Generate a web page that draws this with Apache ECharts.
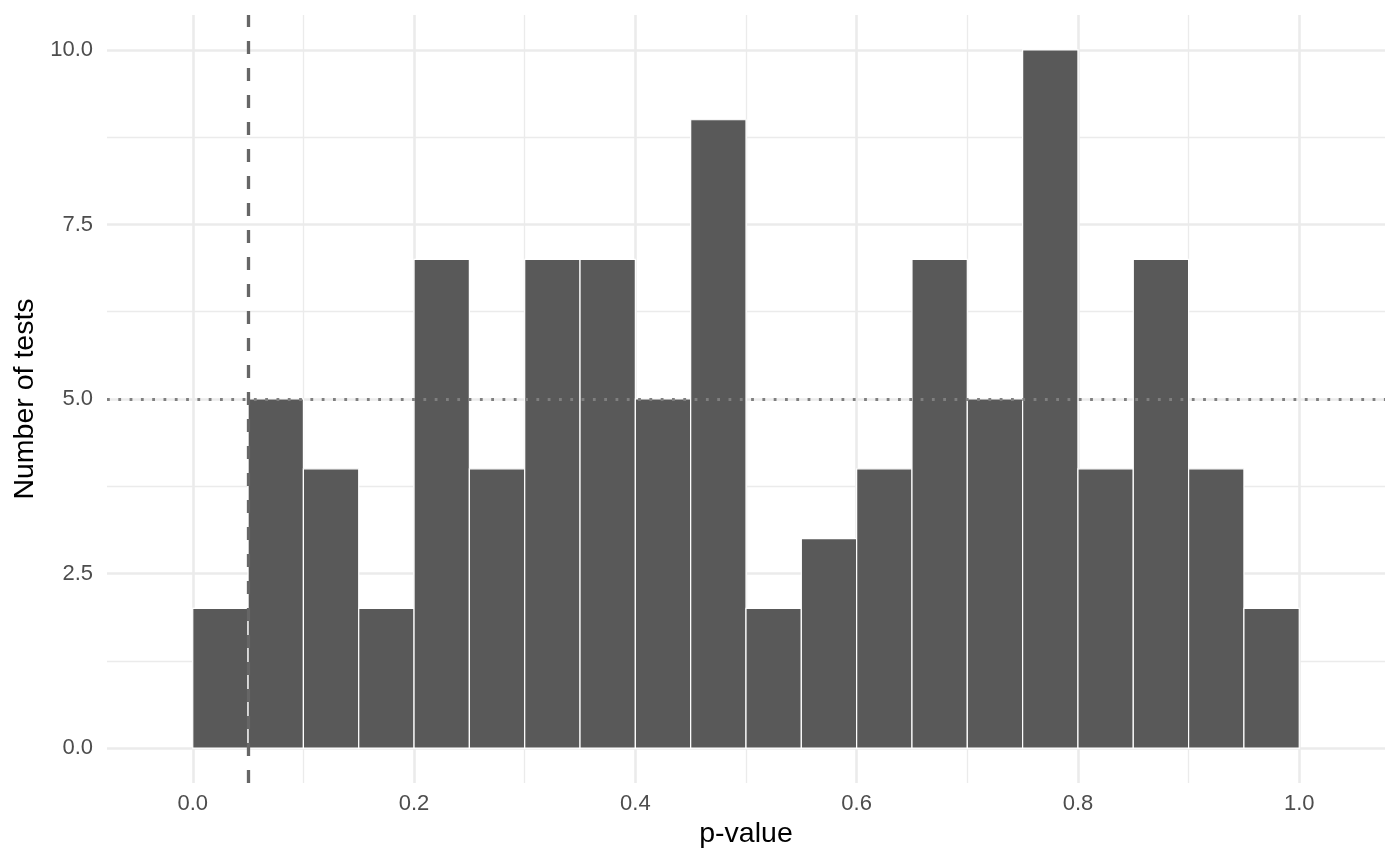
<!DOCTYPE html>
<html>
<head>
<meta charset="utf-8">
<script src="https://cdn.jsdelivr.net/npm/echarts@6/dist/echarts.min.js"></script>
<style>html,body{margin:0;padding:0;background:#fff;}#c{width:1400px;height:866px;}</style>
</head>
<body>
<div id="c"></div>
<script>
// Histogram bins (width 0.05) and counts
const binStarts = [0.00,0.05,0.10,0.15,0.20,0.25,0.30,0.35,0.40,0.45,0.50,0.55,0.60,0.65,0.70,0.75,0.80,0.85,0.90,0.95];
const binEnds   = [0.05,0.10,0.15,0.20,0.25,0.30,0.35,0.40,0.45,0.50,0.55,0.60,0.65,0.70,0.75,0.80,0.85,0.90,0.95,1.00];
const counts    = [2,5,4,2,7,4,7,7,5,9,2,3,4,7,5,10,4,7,4,2];
const xMajorTicks = [0,0.2,0.4,0.6,0.8,1.0];
const xMinorTicks = [0.1,0.3,0.5,0.7,0.9];
const yMajorTicks = [0,2.5,5,7.5,10];
const yMinorTicks = [1.25,3.75,6.25,8.75];
const pThreshold = 0.05;
const expectedCount = 5;

const histData = binStarts.map((s,i)=>[s, binEnds[i], counts[i]]);
const FONT = 'Liberation Sans, Arial, Helvetica, sans-serif';
const gridColor = '#ebebeb';

const chart = echarts.init(document.getElementById('c'));
chart.setOption({
  animation:false,
  backgroundColor:'#ffffff',
  grid:{left:107,right:15,top:15,bottom:83,containLabel:false},
  xAxis:[{
    type:'value', min:-0.0775, max:1.0775,
    name:'p-value', nameLocation:'middle', nameGap:37,
    nameTextStyle:{fontFamily:FONT,fontSize:28.5,color:'#000'},
    axisLine:{show:false}, axisTick:{show:false, customValues:xMajorTicks},
    axisLabel:{customValues:xMajorTicks, formatter:v=>v.toFixed(1), fontFamily:FONT, fontSize:22, color:'#4d4d4d', margin:10},
    splitLine:{show:true, lineStyle:{color:gridColor,width:2.6}}
  },{
    type:'value', min:-0.0775, max:1.0775, position:'bottom',
    axisLine:{show:false}, axisTick:{show:false, customValues:xMinorTicks},
    axisLabel:{show:false, customValues:xMinorTicks},
    splitLine:{show:true, lineStyle:{color:gridColor,width:1.3}}
  }],
  yAxis:[{
    type:'value', min:-0.5, max:10.5,
    name:'Number of tests', nameLocation:'middle', nameGap:66, nameRotate:90,
    nameTextStyle:{fontFamily:FONT,fontSize:28.5,color:'#000'},
    axisLine:{show:false}, axisTick:{show:false, customValues:yMajorTicks},
    axisLabel:{customValues:yMajorTicks, formatter:v=>v.toFixed(1), fontFamily:FONT, fontSize:22, color:'#4d4d4d', margin:14},
    splitLine:{show:true, lineStyle:{color:gridColor,width:2.6}}
  },{
    type:'value', min:-0.5, max:10.5, position:'left',
    axisLine:{show:false}, axisTick:{show:false, customValues:yMinorTicks},
    axisLabel:{show:false, customValues:yMinorTicks},
    splitLine:{show:true, lineStyle:{color:gridColor,width:1.3}}
  }],
  series:[{
    type:'custom',
    xAxisIndex:0, yAxisIndex:0,
    data:histData,
    encode:{x:[0,1], y:2},
    renderItem:function(params, api){
      const p0 = api.coord([api.value(0), 0]);
      const p1 = api.coord([api.value(1), api.value(2)]);
      return {
        type:'rect',
        shape:{x:p0[0], y:p1[1], width:p1[0]-p0[0], height:p0[1]-p1[1]},
        style:{fill:'#595959', stroke:'#ffffff', lineWidth:1.2}
      };
    },
    z:2, silent:true
  },{
    type:'line', xAxisIndex:0, yAxisIndex:0, data:[], z:5, silent:true,
    markLine:{
      silent:true, symbol:['none','none'], label:{show:false}, animation:false,
      data:[
        {xAxis:pThreshold, lineStyle:{color:'#666666', width:3.3, type:[13,14], cap:'butt'}},
        {yAxis:expectedCount, lineStyle:{color:'#7f7f7f', width:2.8, type:[2.8,8.5], cap:'butt'}}
      ]
    }
  }]
});
</script>
</body>
</html>
